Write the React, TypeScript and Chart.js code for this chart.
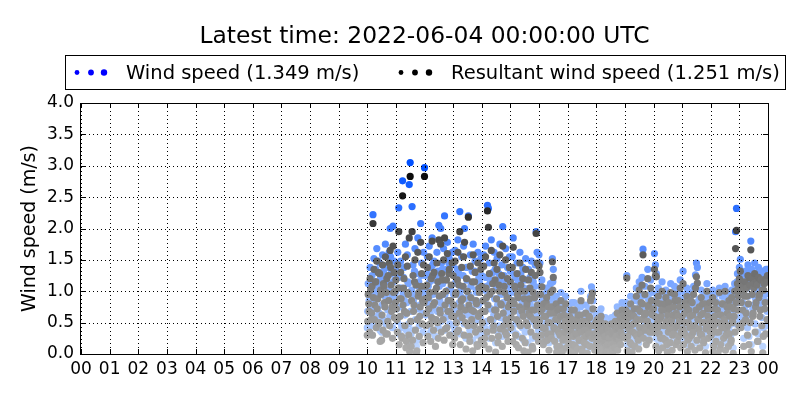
import React, { useEffect, useRef } from "react";
import { Chart, registerables } from "chart.js";

Chart.register(...registerables);

// ---- data (1-minute samples from 10:00 to 23:59 UTC) ----
const startHour = 10;
const stepMinutes = 1;

const windSpeed: number[] = [
  // 10h
  0.42, 0.68, 1.12, 0.95, 0.85, 0.52, 1.38, 1.18, 0.72, 0.82, 1.25, 0.45, 2.22, 1.05, 1.52, 0.72, 0.95, 1.32, 1.35, 0.58, 1.68, 0.88, 1.05, 1.48, 0.62, 0.65, 1.45, 0.38, 1.22, 1.12, 0.35, 0.78, 1.58, 0.55, 1.32, 1.25, 0.98, 0.92, 1.75, 0.48, 1.15, 1.38, 0.48, 0.7, 1.42, 1.02, 1.62, 0.6, 2.0, 1.55, 1.28, 0.85, 0.92, 0.42, 2.04, 1.15, 1.48, 0.75, 1.18, 0.98,
  // 11h
  1.35, 0.88, 0.72, 0.52, 1.62, 1.22, 2.33, 0.32, 1.05, 0.75, 1.48, 1.05, 0.45, 0.42, 2.76, 0.95, 1.22, 1.38, 0.85, 0.62, 1.75, 0.25, 0.38, 0.82, 1.58, 1.15, 1.12, 0.48, 2.7, 0.18, 3.05, 0.68, 0.32, 1.02, 2.35, 0.38, 1.42, 0.85, 0.95, 1.32, 1.68, 0.55, 1.28, 0.12, 0.22, 0.72, 1.85, 1.08, 1.15, 0.45, 0.78, 0.92, 2.08, 1.25, 1.45, 0.65, 1.02, 0.35, 1.62, 0.98,
  // 12h
  2.97, 1.05, 1.25, 0.62, 0.82, 1.28, 1.55, 0.45, 1.08, 0.88, 1.72, 1.15, 0.65, 0.35, 1.38, 0.75, 1.85, 1.42, 0.95, 0.55, 1.48, 0.98, 1.18, 0.28, 0.72, 1.22, 1.62, 0.68, 1.32, 0.42, 2.05, 1.08, 0.88, 0.82, 2.0, 0.52, 1.45, 1.35, 1.12, 0.72, 1.68, 0.38, 2.2, 0.95, 0.58, 1.18, 1.35, 0.6, 1.78, 0.85, 1.02, 1.45, 1.52, 0.48, 0.85, 1.02, 1.28, 0.78, 1.62, 0.32,
  // 13h
  1.42, 0.95, 0.78, 0.42, 1.65, 1.12, 1.15, 0.68, 0.52, 1.35, 1.82, 0.55, 1.28, 0.82, 2.27, 0.32, 0.92, 1.02, 1.55, 0.75, 1.05, 1.25, 1.72, 0.48, 2.0, 0.88, 0.68, 0.25, 1.38, 1.18, 1.18, 0.62, 2.2, 0.95, 0.45, 0.38, 1.58, 1.08, 0.88, 0.72, 1.32, 0.22, 1.75, 0.85, 0.62, 1.32, 1.48, 0.52, 1.02, 0.98, 0.35, 0.3, 1.62, 0.78, 1.22, 1.15, 0.82, 0.58, 1.52, 0.4,
  // 14h
  1.25, 0.68, 0.85, 1.02, 1.58, 0.32, 0.42, 0.85, 1.72, 1.22, 1.08, 0.52, 2.37, 0.95, 2.32, 0.25, 1.45, 1.12, 0.72, 0.72, 1.82, 0.42, 1.18, 1.3, 0.55, 0.62, 1.62, 0.88, 1.35, 0.18, 0.88, 1.05, 1.52, 0.78, 0.35, 0.45, 1.28, 1.18, 1.75, 0.58, 0.98, 0.95, 1.42, 0.28, 2.03, 0.82, 0.62, 1.25, 1.15, 0.52, 1.68, 0.72, 0.48, 1.08, 1.38, 0.38, 0.92, 0.65, 1.55, 0.98,
  // 15h
  1.32, 0.58, 0.75, 1.02, 1.55, 0.38, 1.85, 0.85, 0.98, 1.25, 1.22, 0.48, 0.32, 0.72, 1.45, 1.12, 1.08, 0.28, 0.68, 0.92, 1.62, 0.62, 1.28, 1.18, 0.85, 0.42, 1.38, 0.78, 0.22, 1.05, 1.18, 0.35, 1.52, 0.68, 0.92, 0.98, 0.62, 0.18, 1.35, 0.82, 1.05, 1.22, 0.78, 0.52, 1.48, 0.88, 0.3, 0.25, 1.15, 0.72, 0.88, 1.08, 1.42, 0.45, 1.95, 0.62, 1.62, 0.95, 0.72, 0.38,
  // 16h
  1.58, 0.65, 1.45, 1.08, 0.82, 0.42, 1.18, 0.85, 0.55, 0.28, 0.95, 0.72, 0.32, 0.52, 0.72, 0.95, 1.05, 0.35, 0.45, 0.62, 0.88, 0.18, 0.62, 0.78, 1.12, 0.45, 0.38, 0.88, 1.52, 1.15, 1.35, 0.55, 0.78, 0.32, 0.52, 0.68, 0.92, 0.12, 0.25, 0.82, 0.68, 0.48, 0.85, 0.25, 0.42, 0.72, 0.98, 0.58, 0.58, 0.15, 0.35, 0.85, 0.75, 0.38, 0.48, 0.65, 0.92, 0.22, 0.62, 0.52,
  // 17h
  0.52, 0.35, 0.28, 0.62, 0.72, 0.12, 0.45, 0.48, 0.15, 0.82, 0.65, 0.25, 0.38, 0.55, 0.82, 0.08, 0.22, 0.42, 0.58, 0.68, 0.42, 0.18, 0.75, 0.52, 0.32, 0.32, 0.55, 0.75, 1.0, 0.45, 0.18, 0.1, 0.62, 0.58, 0.35, 0.28, 0.48, 0.65, 0.78, 0.38, 0.25, 0.05, 0.58, 0.48, 0.42, 0.72, 0.68, 0.22, 0.92, 0.55, 1.07, 0.35, 1.0, 0.85, 0.38, 0.42, 0.55, 0.15, 0.22, 0.62,
  // 18h
  0.42, 0.28, 0.65, 0.52, 0.22, 0.08, 0.55, 0.38, 0.32, 0.62, 0.72, 0.18, 0.15, 0.45, 0.48, 0.05, 0.28, 0.32, 0.38, 0.58, 0.12, 0.22, 0.52, 0.12, 0.25, 0.48, 0.42, 0.35, 0.08, 0.05, 0.35, 0.25, 0.58, 0.42, 0.18, 0.1, 0.45, 0.55, 0.28, 0.2, 0.62, 0.35, 0.38, 0.5, 0.75, 0.15, 0.52, 0.62, 0.32, 0.4, 0.68, 0.25, 0.45, 0.55, 0.82, 0.68, 0.58, 0.38, 0.72, 0.6,
  // 19h
  0.55, 0.35, 0.82, 0.62, 1.25, 0.15, 0.38, 0.52, 0.68, 0.78, 0.48, 0.28, 0.92, 0.58, 0.25, 0.12, 0.72, 0.45, 0.58, 0.72, 0.85, 0.22, 0.42, 0.62, 1.05, 0.38, 0.65, 0.85, 0.32, 0.18, 1.15, 0.55, 0.78, 0.42, 0.95, 0.68, 1.22, 0.92, 1.67, 0.35, 0.52, 0.75, 1.08, 0.48, 0.75, 0.25, 0.62, 0.65, 1.35, 0.88, 0.88, 0.32, 0.45, 0.58, 1.18, 0.78, 0.98, 0.45, 0.72, 0.55,
  // 20h
  0.85, 0.48, 1.6, 0.72, 1.42, 0.25, 1.28, 0.95, 0.62, 0.55, 1.05, 0.15, 0.45, 0.68, 0.92, 0.38, 0.72, 0.82, 1.15, 0.22, 0.38, 0.58, 0.82, 0.92, 0.58, 0.35, 1.02, 0.65, 0.28, 0.12, 0.75, 0.48, 0.95, 0.85, 0.52, 0.3, 1.12, 0.62, 0.68, 0.18, 0.42, 0.75, 0.88, 0.45, 1.08, 0.98, 0.55, 0.28, 0.78, 0.58, 0.32, 0.72, 0.98, 0.4, 0.65, 0.88, 1.18, 0.22, 0.48, 0.65,
  // 21h
  0.72, 0.52, 1.32, 0.28, 0.48, 0.78, 0.95, 0.42, 0.62, 0.88, 1.05, 0.15, 0.35, 0.62, 0.82, 0.38, 0.55, 0.72, 0.98, 0.25, 0.42, 0.95, 0.75, 0.48, 1.08, 0.58, 0.58, 0.18, 1.26, 0.82, 1.45, 0.35, 1.38, 0.68, 0.68, 0.52, 0.88, 0.22, 0.45, 0.75, 1.02, 0.42, 0.62, 0.92, 0.78, 0.3, 0.35, 0.62, 0.92, 0.12, 0.52, 0.55, 1.12, 0.85, 0.72, 0.38, 0.85, 0.65, 0.95, 0.48,
  // 22h
  0.85, 0.42, 0.55, 0.68, 1.02, 0.15, 0.25, 0.58, 0.72, 0.85, 0.95, 0.32, 0.48, 0.62, 0.82, 0.12, 0.62, 0.48, 1.05, 0.75, 0.2, 0.28, 0.75, 0.55, 0.92, 0.92, 0.55, 0.38, 0.68, 0.65, 1.08, 0.18, 0.42, 0.52, 0.88, 0.78, 0.58, 0.25, 0.98, 0.45, 0.72, 0.88, 0.3, 0.35, 1.02, 0.62, 0.65, 0.1, 0.85, 0.72, 1.12, 0.48, 1.95, 0.95, 2.32, 1.15, 1.28, 0.82, 1.05, 0.58,
  // 23h
  1.38, 1.12, 1.51, 0.55, 0.95, 1.28, 1.22, 0.82, 0.62, 0.25, 1.15, 1.05, 1.32, 0.68, 0.78, 1.18, 1.05, 0.42, 1.42, 0.92, 0.28, 1.35, 1.25, 0.62, 1.8, 0.15, 1.35, 1.08, 0.72, 0.78, 1.18, 1.25, 1.45, 0.48, 0.88, 0.95, 1.28, 1.22, 0.35, 0.32, 1.38, 1.02, 1.08, 0.72, 0.82, 1.32, 1.32, 0.58, 1.15, 0.12, 0.42, 1.15, 1.25, 0.85, 0.95, 0.45, 1.35, 1.28, 0.68, 1.349,
];

const resultantSpeed: number[] = [
  // 10h
  0.3, 0.52, 0.95, 0.8, 0.68, 0.35, 1.2, 1.02, 0.55, 0.65, 1.08, 0.3, 2.08, 0.9, 1.35, 0.55, 0.78, 1.15, 1.15, 0.42, 1.48, 0.72, 0.88, 1.3, 0.48, 0.5, 1.28, 0.2, 1.02, 0.95, 0.22, 0.62, 1.42, 0.38, 1.12, 1.08, 0.82, 0.75, 1.55, 0.32, 0.98, 1.2, 0.32, 0.52, 1.25, 0.85, 1.45, 0.45, 1.65, 1.38, 1.1, 0.68, 0.75, 0.25, 1.72, 0.98, 1.3, 0.58, 1.0, 0.82,
  // 11h
  1.18, 0.72, 0.55, 0.35, 1.42, 1.05, 1.95, 0.15, 0.88, 0.6, 1.3, 0.88, 0.28, 0.25, 2.52, 0.78, 1.05, 1.2, 0.68, 0.45, 1.55, 0.1, 0.2, 0.65, 1.4, 0.98, 0.95, 0.3, 1.85, 0.04, 2.83, 0.52, 0.12, 0.85, 1.95, 0.22, 1.25, 0.68, 0.78, 1.15, 1.5, 0.38, 1.1, 0.02, 0.05, 0.55, 1.62, 0.92, 0.98, 0.28, 0.6, 0.75, 1.78, 1.08, 1.28, 0.48, 0.85, 0.18, 1.42, 0.82,
  // 12h
  2.83, 0.88, 1.08, 0.45, 0.65, 1.1, 1.38, 0.28, 0.9, 0.72, 1.55, 0.98, 0.48, 0.2, 1.2, 0.58, 1.8, 1.25, 0.78, 0.38, 1.3, 0.82, 1.0, 0.12, 0.55, 1.05, 1.45, 0.5, 1.15, 0.25, 1.82, 0.92, 0.7, 0.65, 1.75, 0.35, 1.28, 1.18, 0.95, 0.55, 1.5, 0.22, 1.85, 0.78, 0.4, 1.0, 1.18, 0.42, 1.6, 0.68, 0.85, 1.28, 1.35, 0.3, 0.68, 0.85, 1.1, 0.6, 1.45, 0.15,
  // 13h
  1.25, 0.78, 0.6, 0.25, 1.48, 0.95, 0.98, 0.5, 0.35, 1.18, 1.62, 0.38, 1.1, 0.65, 1.95, 0.15, 0.75, 0.85, 1.38, 0.58, 0.88, 1.08, 1.55, 0.3, 1.78, 0.7, 0.5, 0.08, 1.2, 1.0, 1.0, 0.45, 2.18, 0.78, 0.28, 0.2, 1.4, 0.9, 0.7, 0.55, 1.15, 0.05, 1.58, 0.68, 0.45, 1.15, 1.3, 0.35, 0.85, 0.8, 0.15, 0.12, 1.45, 0.6, 1.05, 0.98, 0.65, 0.4, 1.35, 0.22,
  // 14h
  1.08, 0.5, 0.68, 0.85, 1.4, 0.15, 0.25, 0.68, 1.55, 1.05, 0.9, 0.35, 2.28, 0.78, 2.02, 0.08, 1.28, 0.95, 0.55, 0.55, 1.65, 0.25, 1.0, 1.12, 0.38, 0.45, 1.45, 0.7, 1.18, 0.03, 0.7, 0.88, 1.35, 0.6, 0.18, 0.28, 1.1, 1.0, 1.58, 0.4, 0.8, 0.78, 1.25, 0.12, 1.72, 0.65, 0.45, 1.08, 0.98, 0.35, 1.5, 0.55, 0.3, 0.9, 1.2, 0.2, 0.75, 0.48, 1.38, 0.8,
  // 15h
  1.15, 0.42, 0.58, 0.85, 1.38, 0.2, 1.7, 0.68, 0.8, 1.08, 1.05, 0.3, 0.15, 0.55, 1.28, 0.95, 0.9, 0.1, 0.5, 0.75, 1.45, 0.45, 1.1, 1.0, 0.68, 0.25, 1.2, 0.6, 0.05, 0.88, 1.0, 0.18, 1.35, 0.5, 0.75, 0.8, 0.45, 0.03, 1.18, 0.65, 0.88, 1.05, 0.6, 0.35, 1.3, 0.7, 0.12, 0.08, 0.98, 0.55, 0.7, 0.9, 1.25, 0.28, 1.92, 0.45, 1.45, 0.78, 0.55, 0.2,
  // 16h
  1.4, 0.52, 1.3, 0.95, 0.68, 0.3, 1.07, 0.72, 0.42, 0.15, 0.8, 0.6, 0.2, 0.4, 0.6, 0.82, 0.9, 0.22, 0.32, 0.5, 0.75, 0.06, 0.5, 0.65, 0.98, 0.32, 0.25, 0.75, 1.47, 1.02, 1.22, 0.42, 0.65, 0.2, 0.4, 0.55, 0.8, 0.03, 0.12, 0.7, 0.55, 0.35, 0.72, 0.12, 0.3, 0.6, 0.85, 0.45, 0.45, 0.04, 0.22, 0.72, 0.62, 0.25, 0.35, 0.52, 0.8, 0.1, 0.5, 0.4,
  // 17h
  0.42, 0.25, 0.18, 0.5, 0.6, 0.04, 0.35, 0.38, 0.06, 0.7, 0.55, 0.15, 0.28, 0.45, 0.7, 0.02, 0.12, 0.32, 0.48, 0.55, 0.32, 0.08, 0.62, 0.42, 0.22, 0.22, 0.45, 0.62, 0.85, 0.35, 0.08, 0.03, 0.52, 0.48, 0.25, 0.18, 0.38, 0.52, 0.65, 0.28, 0.15, 0.01, 0.48, 0.38, 0.32, 0.6, 0.58, 0.12, 0.85, 0.45, 0.9, 0.25, 0.97, 0.72, 0.28, 0.32, 0.45, 0.06, 0.12, 0.5,
  // 18h
  0.32, 0.18, 0.55, 0.42, 0.12, 0.02, 0.45, 0.28, 0.22, 0.52, 0.6, 0.08, 0.06, 0.35, 0.38, 0.01, 0.18, 0.22, 0.28, 0.48, 0.04, 0.12, 0.42, 0.04, 0.15, 0.38, 0.32, 0.25, 0.02, 0.01, 0.25, 0.15, 0.48, 0.32, 0.08, 0.03, 0.35, 0.45, 0.18, 0.1, 0.52, 0.25, 0.28, 0.4, 0.65, 0.06, 0.42, 0.52, 0.22, 0.3, 0.58, 0.15, 0.35, 0.45, 0.7, 0.58, 0.48, 0.28, 0.62, 0.5,
  // 19h
  0.45, 0.25, 0.7, 0.5, 1.21, 0.05, 0.28, 0.42, 0.58, 0.65, 0.38, 0.18, 0.8, 0.45, 0.15, 0.03, 0.62, 0.35, 0.48, 0.6, 0.72, 0.12, 0.32, 0.5, 0.92, 0.28, 0.55, 0.72, 0.22, 0.08, 1.02, 0.42, 0.68, 0.32, 0.82, 0.55, 1.1, 0.8, 1.58, 0.25, 0.42, 0.62, 0.95, 0.38, 0.65, 0.15, 0.52, 0.52, 1.2, 0.75, 0.78, 0.22, 0.35, 0.45, 1.05, 0.65, 0.85, 0.35, 0.62, 0.42,
  // 20h
  0.72, 0.35, 1.35, 0.6, 1.25, 0.12, 1.23, 0.82, 0.5, 0.42, 0.92, 0.05, 0.32, 0.55, 0.8, 0.25, 0.6, 0.7, 1.0, 0.1, 0.25, 0.45, 0.7, 0.8, 0.45, 0.22, 0.9, 0.52, 0.15, 0.03, 0.62, 0.35, 0.82, 0.72, 0.4, 0.18, 0.98, 0.5, 0.55, 0.06, 0.3, 0.62, 0.75, 0.32, 0.95, 0.85, 0.42, 0.15, 0.65, 0.45, 0.2, 0.6, 0.85, 0.28, 0.52, 0.75, 1.05, 0.1, 0.35, 0.52,
  // 21h
  0.6, 0.4, 1.12, 0.15, 0.35, 0.65, 0.82, 0.3, 0.5, 0.75, 0.92, 0.04, 0.22, 0.5, 0.7, 0.25, 0.42, 0.6, 0.85, 0.12, 0.3, 0.82, 0.62, 0.35, 0.95, 0.45, 0.45, 0.06, 1.05, 0.7, 1.23, 0.22, 1.13, 0.55, 0.55, 0.4, 0.75, 0.1, 0.32, 0.62, 0.9, 0.3, 0.5, 0.8, 0.65, 0.18, 0.22, 0.5, 0.8, 0.02, 0.4, 0.42, 1.0, 0.72, 0.6, 0.25, 0.72, 0.52, 0.82, 0.35,
  // 22h
  0.72, 0.3, 0.42, 0.55, 0.9, 0.04, 0.12, 0.45, 0.6, 0.72, 0.82, 0.2, 0.35, 0.5, 0.7, 0.02, 0.5, 0.35, 0.98, 0.62, 0.08, 0.15, 0.62, 0.42, 0.8, 0.8, 0.42, 0.25, 0.55, 0.52, 1.0, 0.06, 0.3, 0.4, 0.75, 0.65, 0.45, 0.12, 0.85, 0.32, 0.6, 0.75, 0.18, 0.22, 0.9, 0.5, 0.52, 0.01, 0.72, 0.6, 1.0, 0.35, 1.68, 0.82, 1.97, 1.02, 1.12, 0.7, 0.92, 0.45,
  // 23h
  1.2, 1.0, 1.32, 0.42, 0.82, 1.15, 1.08, 0.7, 0.5, 0.12, 1.02, 0.92, 1.15, 0.55, 0.65, 1.05, 0.92, 0.3, 1.25, 0.8, 0.15, 1.22, 1.1, 0.5, 1.66, 0.04, 1.2, 0.95, 0.6, 0.65, 1.05, 1.12, 1.28, 0.35, 0.75, 0.82, 1.15, 1.1, 0.2, 0.2, 1.22, 0.9, 0.95, 0.6, 0.7, 1.18, 1.18, 0.45, 1.02, 0.02, 0.28, 1.02, 1.12, 0.72, 0.82, 0.32, 1.2, 1.15, 0.55, 1.251,
];

const titleText = "Latest time: 2022-06-04 00:00:00 UTC";
const legendLabels = ["Wind speed (1.349 m/s)", "Resultant wind speed (1.251 m/s)"];
const yAxisTitle = "Wind speed (m/s)";

const FONT = "'DejaVu Sans', sans-serif";

function clamp(v: number, a: number, b: number) {
  return Math.max(a, Math.min(b, v));
}
function windColor(v: number) {
  const t = clamp(v / 3, 0, 1);
  const r = Math.round(195 * (1 - t));
  const g = Math.round(218 - 138 * t);
  return `rgb(${r},${g},255)`;
}
function resColor(v: number) {
  const l = Math.round(clamp(175 - 40 * v - 8 * v * v, 12, 175));
  return `rgb(${l},${l},${l})`;
}

const toPoints = (arr: number[]) =>
  arr.map((v, i) => ({ x: startHour + (i * stepMinutes) / 60, y: v }));

const decorPlugin = {
  id: "decor",
  afterDatasetsDraw(chart: any) {
    const { ctx, chartArea, scales } = chart;
    const { left, right, top, bottom } = chartArea;
    const xs = scales.x;
    const ys = scales.y;
    ctx.save();
    ctx.strokeStyle = "#000";
    ctx.lineWidth = 1;
    // dotted grid (drawn above points, as in the reference)
    ctx.setLineDash([1, 3]);
    ctx.beginPath();
    xs.ticks.forEach((t: any) => {
      const px = Math.round(xs.getPixelForValue(t.value)) + 0.5;
      ctx.moveTo(px, top);
      ctx.lineTo(px, bottom);
    });
    ys.ticks.forEach((t: any) => {
      const py = Math.round(ys.getPixelForValue(t.value)) + 0.5;
      ctx.moveTo(left, py);
      ctx.lineTo(right, py);
    });
    ctx.stroke();
    ctx.setLineDash([]);
    // inward tick marks
    const tl = 5;
    ctx.beginPath();
    xs.ticks.forEach((t: any) => {
      const px = Math.round(xs.getPixelForValue(t.value)) + 0.5;
      ctx.moveTo(px, bottom);
      ctx.lineTo(px, bottom - tl);
      ctx.moveTo(px, top);
      ctx.lineTo(px, top + tl);
    });
    ys.ticks.forEach((t: any) => {
      const py = Math.round(ys.getPixelForValue(t.value)) + 0.5;
      ctx.moveTo(left, py);
      ctx.lineTo(left + tl, py);
      ctx.moveTo(right, py);
      ctx.lineTo(right - tl, py);
    });
    ctx.stroke();
    // frame
    ctx.strokeRect(Math.round(left) - 0.5, Math.round(top) + 0.5, Math.round(right - left) + 1, Math.round(bottom - top));
    ctx.restore();
  },
  afterDraw(chart: any) {
    const { ctx, chartArea } = chart;
    const cx = (chartArea.left + chartArea.right) / 2;
    ctx.save();
    ctx.fillStyle = "#000";
    ctx.textBaseline = "middle";
    // title
    ctx.font = `23.4px ${FONT}`;
    ctx.textAlign = "center";
    ctx.fillText(titleText, cx, 36.5);
    // legend box
    ctx.strokeStyle = "#000";
    ctx.lineWidth = 1;
    ctx.strokeRect(65.5, 55.5, 720, 34);
    ctx.font = `19.5px ${FONT}`;
    ctx.textAlign = "left";
    const ly = 72.5;
    const entries = [
      { color: "#0000ff", dots: [77, 91, 104], tx: 126, label: legendLabels[0] },
      { color: "#000000", dots: [401, 415, 429], tx: 451, label: legendLabels[1] },
    ];
    const radii = [2.4, 2.9, 3.2];
    entries.forEach((e) => {
      ctx.fillStyle = e.color;
      e.dots.forEach((dx, k) => {
        ctx.beginPath();
        ctx.arc(dx, ly, radii[k], 0, Math.PI * 2);
        ctx.fill();
      });
      ctx.fillStyle = "#000";
      ctx.fillText(e.label, e.tx, ly + 1.5);
    });
    ctx.restore();
  },
};

export default function App() {
  const ref = useRef<HTMLCanvasElement | null>(null);
  useEffect(() => {
    if (!ref.current) return;
    const chart = new Chart(ref.current, {
      type: "scatter",
      data: {
        datasets: [
          {
            label: legendLabels[0],
            data: toPoints(windSpeed),
            order: 2,
            clip: 0,
            pointRadius: 3.6,
            pointBorderWidth: 0,
            pointBackgroundColor: (c: any) => windColor(c.raw ? c.raw.y : 0),
          } as any,
          {
            label: legendLabels[1],
            data: toPoints(resultantSpeed),
            order: 1,
            clip: 0,
            pointRadius: 3.6,
            pointBorderWidth: 0,
            pointBackgroundColor: (c: any) => resColor(c.raw ? c.raw.y : 0),
          } as any,
        ],
      },
      options: {
        animation: false,
        responsive: false,
        devicePixelRatio: 1,
        events: [],
        layout: { padding: { top: 103, right: 32, bottom: 0, left: 0 } },
        plugins: {
          legend: { display: false },
          title: { display: false },
          tooltip: { enabled: false },
        },
        scales: {
          x: {
            type: "linear",
            min: 0,
            max: 24,
            grid: { display: false, drawTicks: false },
            border: { display: false },
            ticks: {
              stepSize: 1,
              autoSkip: false,
              maxRotation: 0,
              padding: 5,
              color: "#000",
              font: { family: FONT, size: 17 },
              callback: (v: any) => String(Number(v) % 24).padStart(2, "0"),
            },
            afterFit: (s: any) => {
              s.height = 46;
            },
          },
          y: {
            min: 0,
            max: 4,
            grid: { display: false, drawTicks: false },
            border: { display: false },
            ticks: {
              stepSize: 0.5,
              padding: 7,
              color: "#000",
              font: { family: FONT, size: 17 },
              callback: (v: any) => Number(v).toFixed(1),
            },
            title: {
              display: true,
              text: yAxisTitle,
              color: "#000",
              font: { family: FONT, size: 19 },
              padding: { top: 19, bottom: 0 },
            },
            afterFit: (s: any) => {
              s.width = 81;
            },
          },
        },
      },
      plugins: [decorPlugin],
    } as any);
    return () => chart.destroy();
  }, []);
  return (
    <div style={{ position: "fixed", left: 0, top: 0, width: 800, height: 400, background: "#fff" }}>
      <canvas ref={ref} width={800} height={400} style={{ display: "block", width: 800, height: 400 }} />
    </div>
  );
}
